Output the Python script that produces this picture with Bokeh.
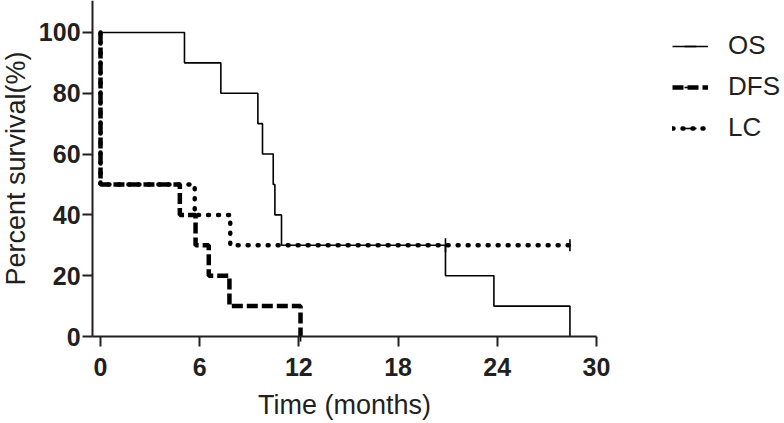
import numpy as np
from bokeh.plotting import figure
from bokeh.models import Range1d, FixedTicker, Legend, LegendItem
from bokeh.embed import file_html
from bokeh.resources import INLINE

# ---- data ----
os_time = [0, 5.08, 7.28, 9.52, 9.8, 10.45, 10.55, 10.95, 20.87, 23.8, 28.4]
os_surv = [100, 90, 80, 70, 60, 50, 40, 30, 20, 10, 0]
os_cens_time = [20.87]
os_cens_surv = [30]

dfs_time = [0, 0, 4.8, 5.75, 6.55, 7.8, 12.1]
dfs_surv = [100, 50, 40, 30, 20, 10, 0]
dfs_cens_time = [12.1]
dfs_cens_surv = [0]

lc_time = [0, 0, 5.7, 7.85, 28.4]
lc_surv = [100, 50, 40, 30, 30]
lc_cens_time = [28.4]
lc_cens_surv = [30]

x_ticks = [0, 6, 12, 18, 24, 30]
y_ticks = [0, 20, 40, 60, 80, 100]
x_axis_span = (-0.48, 30)
y_axis_span = (0, 110.5)

FONT = "Liberation Sans"
INK = "#231f20"

p = figure(width=784, height=423, output_backend="svg", toolbar_location=None,
           x_range=Range1d(-6.05, 41.38), y_range=Range1d(-28.6, 110.5),
           min_border_left=0, min_border_right=0, min_border_top=0,
           min_border_bottom=0)
p.grid.visible = False
p.outline_line_color = None
p.background_fill_color = "white"
p.border_fill_color = "white"

for ax in (p.xaxis[0], p.yaxis[0]):
    ax.axis_line_width = 2
    ax.axis_line_color = INK
    ax.major_tick_line_width = 2
    ax.major_tick_line_color = INK
    ax.major_tick_out = 10
    ax.major_tick_in = 0
    ax.minor_tick_line_color = None
    ax.major_label_text_font = FONT
    ax.major_label_text_font_style = "bold"
    ax.major_label_text_font_size = "25px"
    ax.major_label_text_color = INK
    ax.axis_label_text_font = FONT
    ax.axis_label_text_font_style = "normal"
    ax.axis_label_text_font_size = "27px"
    ax.axis_label_text_color = INK

p.xaxis.ticker = FixedTicker(ticks=x_ticks)
p.yaxis.ticker = FixedTicker(ticks=y_ticks)
p.xaxis.fixed_location = 0
p.yaxis.fixed_location = x_axis_span[0]
p.xaxis.bounds = x_axis_span
p.yaxis.bounds = y_axis_span
p.xaxis.axis_label = "Time (months)"
p.yaxis.axis_label = "Percent survival(%)"
p.xaxis.major_label_standoff = 11
p.yaxis.major_label_standoff = 2
p.xaxis.axis_label_standoff = 11
p.yaxis.axis_label_standoff = 5

r_os = p.step(os_time, os_surv, mode="after", line_color="black", line_width=1.6)
r_dfs = p.step(dfs_time, dfs_surv, mode="after", line_color="black", line_width=4.5,
               line_dash="11 4")
r_lc = p.step(lc_time, lc_surv, mode="after", line_color="black", line_width=4.5,
              line_dash="1 9", line_cap="round")

c_os = p.scatter(os_cens_time, os_cens_surv, marker="dash", angle=np.pi / 2, size=14,
                 line_color="black", line_width=1.6)
c_dfs = p.scatter(dfs_cens_time, dfs_cens_surv, marker="dash", angle=np.pi / 2, size=10,
                  line_color="black", line_width=1.6)
c_lc = p.scatter(lc_cens_time, lc_cens_surv, marker="dash", angle=np.pi / 2, size=12,
                 line_color="black", line_width=1.6)

legend = Legend(items=[LegendItem(label="OS", renderers=[r_os, c_os]),
                       LegendItem(label="DFS", renderers=[r_dfs, c_dfs]),
                       LegendItem(label="LC", renderers=[r_lc, c_lc])],
                location=(672, 280))
legend.padding = 0
legend.margin = 0
legend.spacing = 10
legend.glyph_width = 36
legend.glyph_height = 30
legend.label_height = 30
legend.label_standoff = 20
legend.label_text_font = FONT
legend.label_text_font_size = "26px"
legend.label_text_color = INK
legend.border_line_color = None
legend.background_fill_alpha = 0
p.add_layout(legend, "center")

open("out.html", "w").write(file_html(p, INLINE))
